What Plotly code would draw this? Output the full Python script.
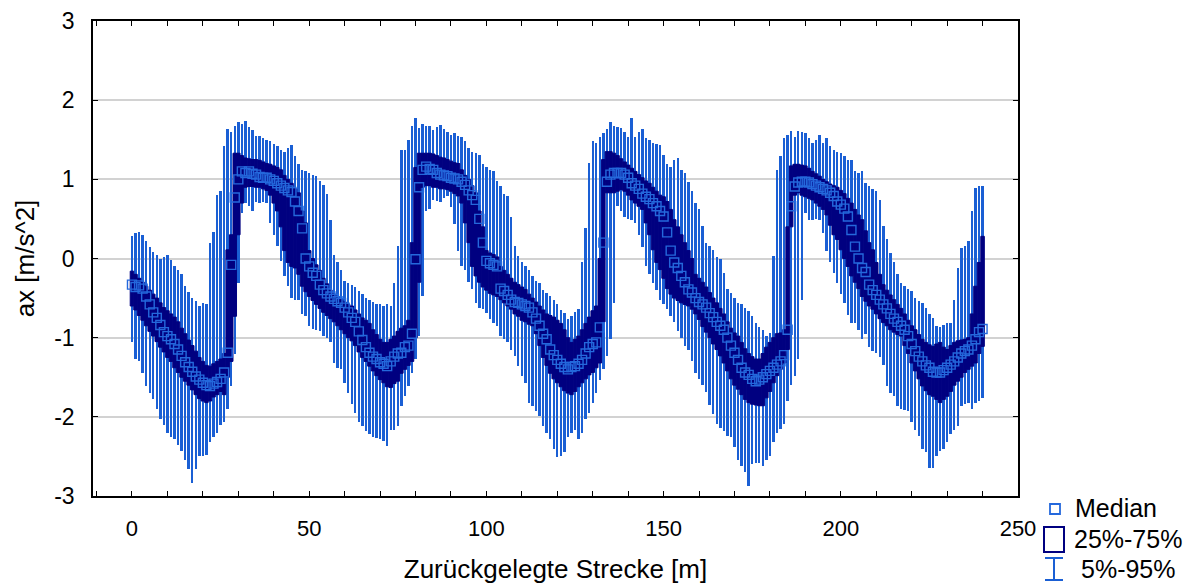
import plotly.graph_objects as go

# ---------------- data ----------------
distance = list(range(0, 241))

median = [
    -0.33, -0.36, -0.34, -0.38, -0.48, -0.58, -0.68, -0.75, -0.84, -0.93,
    -0.98, -1.02, -1.08, -1.15, -1.23, -1.31, -1.37, -1.43, -1.49, -1.53,
    -1.57, -1.60, -1.61, -1.58, -1.56, -1.52, -1.44, -1.19, -0.08, 0.77,
    1.00, 1.10, 1.08, 1.10, 1.07, 1.06, 1.03, 1.02, 1.02, 1.00,
    0.98, 0.95, 0.92, 0.89, 0.86, 0.84, 0.72, 0.60, 0.38, 0.00,
    -0.10, -0.18, -0.22, -0.33, -0.40, -0.44, -0.48, -0.51, -0.54, -0.56,
    -0.62, -0.68, -0.75, -0.80, -0.92, -1.03, -1.12, -1.19, -1.24, -1.27,
    -1.31, -1.33, -1.36, -1.30, -1.24, -1.20, -1.19, -1.12, -1.10, -0.95,
    -0.01, 0.90, 1.12, 1.16, 1.13, 1.12, 1.08, 1.06, 1.05, 1.04,
    1.02, 1.01, 1.00, 0.97, 0.93, 0.86, 0.80, 0.74, 0.50, 0.20,
    -0.03, -0.06, -0.08, -0.10, -0.38, -0.41, -0.46, -0.52, -0.55, -0.56,
    -0.58, -0.60, -0.62, -0.68, -0.76, -0.85, -0.95, -1.02, -1.15, -1.22,
    -1.28, -1.33, -1.37, -1.40, -1.37, -1.36, -1.33, -1.28, -1.20, -1.12,
    -1.08, -1.06, -0.87, 0.20, 0.97, 1.06, 1.08, 1.08, 1.08, 1.06,
    1.02, 0.95, 0.92, 0.88, 0.82, 0.78, 0.75, 0.70, 0.66, 0.60,
    0.53, 0.33, 0.10, -0.05, -0.12, -0.22, -0.30, -0.39, -0.43, -0.50,
    -0.55, -0.58, -0.62, -0.69, -0.74, -0.80, -0.85, -0.90, -1.00, -1.10,
    -1.19, -1.28, -1.38, -1.44, -1.47, -1.52, -1.55, -1.53, -1.50, -1.46,
    -1.42, -1.38, -1.34, -1.30, -1.22, -0.90, 0.66, 0.91, 0.96, 0.97,
    0.97, 0.96, 0.94, 0.92, 0.90, 0.88, 0.86, 0.83, 0.79, 0.72,
    0.68, 0.63, 0.53, 0.36, 0.15, 0.00, -0.12, -0.17, -0.33, -0.40,
    -0.46, -0.52, -0.58, -0.63, -0.70, -0.76, -0.80, -0.85, -0.90, -0.98,
    -1.08, -1.17, -1.24, -1.30, -1.35, -1.38, -1.43, -1.44, -1.44, -1.41,
    -1.38, -1.34, -1.30, -1.25, -1.20, -1.17, -1.15, -1.10, -1.02, -0.93,
    -0.89,
]

q3 = [
    -0.16, -0.20, -0.25, -0.30, -0.35, -0.40, -0.45, -0.50, -0.56, -0.62,
    -0.66, -0.70, -0.74, -0.80, -0.88, -0.95, -1.03, -1.10, -1.17, -1.25,
    -1.30, -1.35, -1.36, -1.33, -1.30, -1.27, -1.20, 0.11, 0.30, 1.33,
    1.33, 1.30, 1.27, 1.26, 1.25, 1.25, 1.24, 1.22, 1.20, 1.19,
    1.17, 1.15, 1.12, 1.05, 1.00, 0.95, 0.88, 0.83, 0.60, 0.45,
    0.10, 0.00, -0.08, -0.15, -0.25, -0.32, -0.40, -0.45, -0.48, -0.52,
    -0.55, -0.58, -0.60, -0.65, -0.70, -0.75, -0.78, -0.82, -0.90, -0.96,
    -1.02, -1.06, -1.06, -1.02, -0.98, -0.92, -0.88, -0.85, -0.78, 0.20,
    1.15, 1.33, 1.33, 1.33, 1.33, 1.32, 1.30, 1.28, 1.27, 1.25,
    1.23, 1.21, 1.20, 1.12, 1.05, 1.00, 0.92, 0.83, 0.60, 0.40,
    0.10, 0.07, 0.05, 0.02, -0.10, -0.15, -0.20, -0.25, -0.30, -0.33,
    -0.36, -0.39, -0.45, -0.50, -0.55, -0.60, -0.65, -0.70, -0.72, -0.74,
    -0.78, -0.82, -0.90, -1.00, -1.06, -1.02, -0.98, -0.90, -0.82, -0.74,
    -0.66, -0.60, 0.00, 1.25, 1.35, 1.35, 1.33, 1.30, 1.26, 1.22,
    1.18, 1.14, 1.10, 1.06, 1.02, 0.98, 0.95, 0.90, 0.85, 0.80,
    0.78, 0.72, 0.62, 0.49, 0.40, 0.30, 0.20, 0.10, 0.00, -0.20,
    -0.25, -0.30, -0.36, -0.43, -0.50, -0.56, -0.63, -0.70, -0.80, -0.88,
    -0.94, -0.98, -1.06, -1.14, -1.20, -1.24, -1.27, -1.27, -1.20, -1.12,
    -1.06, -1.00, -0.95, -0.94, -0.90, 0.40, 1.17, 1.19, 1.19, 1.18,
    1.17, 1.14, 1.10, 1.07, 1.04, 1.00, 0.97, 0.94, 0.92, 0.90,
    0.86, 0.82, 0.76, 0.70, 0.62, 0.55, 0.49, 0.35, 0.20, 0.11,
    -0.05, -0.20, -0.33, -0.40, -0.46, -0.52, -0.58, -0.63, -0.70, -0.78,
    -0.85, -0.90, -0.96, -1.02, -1.06, -1.09, -1.11, -1.08, -1.06, -1.12,
    -1.15, -1.10, -1.06, -1.04, -1.03, -1.02, -1.00, -0.70, -0.35, -0.05,
    0.28,
]

q1 = [
    -0.60, -0.65, -0.72, -0.78, -0.85, -0.92, -0.98, -1.05, -1.12, -1.18,
    -1.25, -1.30, -1.38, -1.44, -1.50, -1.55, -1.60, -1.66, -1.72, -1.77,
    -1.80, -1.82, -1.80, -1.75, -1.72, -1.68, -1.72, -1.50, -1.30, -0.73,
    0.30, 0.70, 0.90, 0.91, 0.91, 0.90, 0.90, 0.88, 0.86, 0.80,
    0.70, 0.60, 0.40, 0.10, -0.05, -0.10, -0.12, -0.20, -0.35, -0.42,
    -0.48, -0.53, -0.58, -0.63, -0.68, -0.72, -0.76, -0.80, -0.85, -0.90,
    -0.95, -1.00, -1.04, -1.10, -1.18, -1.25, -1.30, -1.36, -1.42, -1.48,
    -1.53, -1.57, -1.62, -1.63, -1.58, -1.55, -1.45, -1.40, -1.35, -1.30,
    -1.00, -0.30, 0.90, 0.92, 0.92, 0.90, 0.90, 0.88, 0.88, 0.87,
    0.85, 0.82, 0.79, 0.70, 0.45, 0.20, -0.10, -0.22, -0.30, -0.36,
    -0.40, -0.44, -0.46, -0.48, -0.52, -0.56, -0.60, -0.64, -0.70, -0.73,
    -0.78, -0.80, -0.83, -0.85, -0.95, -1.10, -1.25, -1.35, -1.45, -1.52,
    -1.57, -1.62, -1.67, -1.70, -1.72, -1.68, -1.62, -1.57, -1.52, -1.47,
    -1.44, -1.38, -1.32, -0.80, 0.83, 0.83, 0.83, 0.85, 0.87, 0.85,
    0.80, 0.74, 0.70, 0.66, 0.62, 0.45, 0.30, 0.11, -0.05, -0.14,
    -0.25, -0.38, -0.45, -0.50, -0.53, -0.56, -0.58, -0.60, -0.64, -0.70,
    -0.77, -0.86, -0.93, -1.00, -1.08, -1.15, -1.23, -1.32, -1.42, -1.52,
    -1.60, -1.65, -1.72, -1.78, -1.82, -1.84, -1.85, -1.86, -1.86, -1.76,
    -1.68, -1.57, -1.48, -1.40, -1.32, -1.15, 0.40, 0.80, 0.83, 0.80,
    0.78, 0.76, 0.74, 0.70, 0.66, 0.62, 0.55, 0.42, 0.30, 0.24,
    0.11, 0.00, -0.10, -0.22, -0.30, -0.38, -0.48, -0.54, -0.60, -0.64,
    -0.70, -0.76, -0.81, -0.85, -0.90, -0.93, -0.96, -0.98, -1.10, -1.20,
    -1.32, -1.42, -1.52, -1.61, -1.67, -1.72, -1.74, -1.78, -1.82, -1.78,
    -1.74, -1.68, -1.60, -1.55, -1.50, -1.44, -1.40, -1.36, -1.32, -1.20,
    -1.11,
]

p95 = [
    0.28, 0.32, 0.34, 0.30, 0.22, 0.15, 0.08, 0.05, 0.00, 0.02,
    0.05, -0.02, -0.10, -0.14, -0.20, -0.35, -0.42, -0.50, -0.54, -0.60,
    -0.56, -0.58, 0.20, 0.34, 0.80, 0.85, 1.42, 1.63, 1.60, 1.68,
    1.72, 1.70, 1.74, 1.66, 1.62, 1.55, 1.55, 1.52, 1.50, 1.48,
    1.45, 1.42, 1.37, 1.35, 1.40, 1.44, 1.30, 1.20, 1.12, 1.10,
    1.08, 1.06, 1.04, 0.98, 0.93, 0.82, 0.49, 0.05, -0.05, -0.15,
    -0.28, -0.31, -0.33, -0.36, -0.41, -0.45, -0.50, -0.52, -0.55, -0.58,
    -0.58, -0.60, -0.58, -0.60, -0.31, 0.16, 1.37, 1.37, 1.50, 1.67,
    1.77, 1.65, 1.70, 1.68, 1.68, 1.62, 1.66, 1.69, 1.64, 1.60,
    1.56, 1.58, 1.55, 1.54, 1.48, 1.40, 1.35, 1.33, 1.31, 1.20,
    1.16, 1.12, 1.10, 0.98, 0.91, 0.82, 0.79, 0.53, 0.16, 0.03,
    -0.05, -0.10, -0.15, -0.22, -0.28, -0.31, -0.40, -0.43, -0.47, -0.52,
    -0.58, -0.65, -0.69, -0.77, -0.73, -0.68, -0.64, -0.05, 0.39, 1.21,
    1.48, 1.46, 1.54, 1.58, 1.63, 1.73, 1.67, 1.66, 1.65, 1.60,
    1.54, 1.77, 1.54, 1.60, 1.63, 1.52, 1.50, 1.46, 1.45, 1.44,
    1.31, 1.20, 1.16, 1.25, 1.27, 1.12, 1.08, 0.97, 0.85, 0.70,
    0.62, 0.41, 0.20, 0.16, 0.11, 0.02, -0.01, -0.18, -0.39, -0.43,
    -0.50, -0.56, -0.58, -0.62, -0.66, -0.73, -0.81, -0.86, -0.90, -0.98,
    -0.94, 0.03, 1.12, 1.29, 1.52, 1.56, 1.61, 1.54, 1.61, 1.60,
    1.58, 1.52, 1.46, 1.50, 1.56, 1.46, 1.52, 1.42, 1.37, 1.35,
    1.33, 1.30, 1.25, 1.25, 1.10, 1.08, 1.10, 0.95, 0.91, 0.88,
    0.85, 0.74, 0.41, 0.25, 0.07, -0.05, -0.20, -0.31, -0.35, -0.38,
    -0.41, -0.50, -0.54, -0.56, -0.62, -0.70, -0.75, -0.85, -0.87, -0.84,
    -0.81, -0.81, -0.52, -0.12, 0.13, 0.16, 0.22, 0.60, 0.89, 0.91,
    0.92,
]

p5 = [
    -1.06, -1.27, -1.30, -1.44, -1.61, -1.70, -1.78, -1.90, -2.03, -2.10,
    -2.20, -2.25, -2.28, -2.35, -2.43, -2.55, -2.66, -2.83, -2.66, -2.50,
    -2.50, -2.48, -2.32, -2.25, -2.20, -2.10, -2.07, -1.90, -1.61, -1.20,
    -0.31, 0.58, 0.70, 0.66, 0.60, 0.72, 0.70, 0.72, 0.70, 0.45,
    0.30, 0.16, -0.03, -0.22, -0.35, -0.50, -0.52, -0.52, -0.70, -0.73,
    -0.85, -0.89, -0.90, -0.92, -0.98, -1.00, -1.06, -1.32, -1.38, -1.40,
    -1.57, -1.70, -1.84, -1.95, -2.07, -2.12, -2.18, -2.22, -2.26, -2.27,
    -2.28, -2.30, -2.37, -2.16, -2.16, -2.11, -1.86, -1.74, -1.61, -1.45,
    -1.27, -0.98, -0.47, 0.60, 0.62, 0.74, 0.73, 0.72, 0.76, 0.79,
    0.65, 0.43, 0.10, -0.10, -0.14, -0.30, -0.39, -0.56, -0.62, -0.64,
    -0.69, -0.77, -0.82, -0.85, -0.98, -1.02, -1.06, -1.15, -1.23, -1.36,
    -1.48, -1.57, -1.82, -1.86, -1.92, -1.99, -2.11, -2.20, -2.28, -2.41,
    -2.51, -2.50, -2.45, -2.26, -2.20, -2.16, -2.28, -2.20, -2.03, -1.95,
    -1.82, -1.70, -1.53, -1.40, -1.23, -1.02, -0.56, 0.66, 0.60, 0.53,
    0.50, 0.49, 0.45, 0.30, 0.15, -0.10, -0.20, -0.31, -0.40, -0.52,
    -0.58, -0.64, -0.72, -0.80, -0.92, -1.00, -1.10, -1.15, -1.30, -1.44,
    -1.52, -1.60, -1.69, -1.85, -1.97, -2.09, -2.14, -2.18, -2.24, -2.26,
    -2.38, -2.55, -2.62, -2.70, -2.87, -2.60, -2.58, -2.58, -2.62, -2.55,
    -2.49, -2.32, -2.20, -2.15, -2.09, -1.80, -1.60, -1.48, -1.27, -0.52,
    0.58, 0.49, 0.49, 0.50, 0.49, 0.32, 0.10, -0.05, -0.18, -0.31,
    -0.45, -0.56, -0.71, -0.81, -0.82, -0.90, -1.02, -0.95, -1.12, -1.17,
    -1.19, -1.25, -1.34, -1.61, -1.70, -1.74, -1.86, -1.90, -1.91, -1.93,
    -2.07, -2.16, -2.24, -2.41, -2.45, -2.64, -2.64, -2.49, -2.43, -2.41,
    -2.32, -2.22, -2.16, -2.11, -1.86, -1.84, -1.82, -1.90, -1.82, -1.80,
    -1.76,
]

x_tick_values = list(range(-10, 251, 10))
x_tick_labels = [str(v) if (v >= 0 and v % 50 == 0) else "" for v in x_tick_values]
y_tick_values = [-3, -2, -1, 0, 1, 2, 3]
y_tick_labels = ["-3", "-2", "-1", "0", "1", "2", "3"]
legend_labels = ["Median", "25%-75%", "5%-95%"]

# ---------------- styling ----------------
NAVY = "#000080"
WHISKER = "#1a5fd4"
MARK = "#2468dc"
FONT = "Liberation Sans, Arial, sans-serif"

# the page body adds an 8 px margin around the figure
OFF = 8
W, H = 1192 - OFF, 584 - OFF
ML, MT = 93 - OFF, 21 - OFF          # plot area starts at page (93, 21)
PW, PH = 925, 475                    # plot area size
MR, MB = W - ML - PW, H - MT - PH


def px(xp):
    """page x pixel -> paper x"""
    return (xp - OFF - ML) / PW


def py(yp):
    """page y pixel -> paper y"""
    return (MT + PH - (yp - OFF)) / PH


fig = go.Figure()

# 5%-95% whiskers
fig.add_trace(go.Bar(
    x=distance,
    base=p5,
    y=[hi - lo for hi, lo in zip(p95, p5)],
    width=0.68,
    marker=dict(color=WHISKER, line=dict(width=0)),
    hoverinfo="skip",
    showlegend=False,
))

# 25%-75% boxes
fig.add_trace(go.Box(
    x=distance,
    q1=q1,
    median=median,
    q3=q3,
    lowerfence=q1,
    upperfence=q3,
    width=1.0,
    whiskerwidth=0,
    fillcolor=NAVY,
    line=dict(color=NAVY, width=1),
    boxpoints=False,
    hoverinfo="skip",
    showlegend=False,
))

# medians
fig.add_trace(go.Scatter(
    x=distance,
    y=median,
    mode="markers",
    marker=dict(symbol="square-open", size=9, color=MARK,
                line=dict(width=1.4, color=MARK)),
    showlegend=False,
))

fig.update_layout(
    width=W, height=H,
    margin=dict(l=ML, r=MR, t=MT, b=MB, pad=0),
    paper_bgcolor="white",
    plot_bgcolor="white",
    font=dict(family=FONT, color="black", size=22),
    showlegend=False,
    bargap=0,
    boxmode="overlay",
)

fig.update_xaxes(
    range=[-11, 250],
    tickmode="array",
    tickvals=x_tick_values,
    ticktext=x_tick_labels,
    ticks="inside", ticklen=5, tickwidth=1.2, tickcolor="black",
    showline=True, linecolor="black", linewidth=1.6, mirror="allticks",
    showgrid=False, zeroline=False,
    tickfont=dict(size=22),
    ticklabelstandoff=12,
    ticklabeloverflow="allow",
    automargin=False,
    title=dict(text="Zurückgelegte Strecke [m]", font=dict(size=26), standoff=20),
)

fig.update_yaxes(
    range=[-3, 3],
    tickmode="array",
    tickvals=y_tick_values,
    ticktext=y_tick_labels,
    ticks="inside", ticklen=5, tickwidth=1.2, tickcolor="black",
    showline=True, linecolor="black", linewidth=1.6, mirror="allticks",
    showgrid=True, gridcolor="#d2d2d2", gridwidth=2,
    zeroline=False,
    tickfont=dict(size=23),
    ticklabelstandoff=12,
    ticklabeloverflow="allow",
    automargin=False,
    title=dict(text="ax [m/s^2]", font=dict(size=26), standoff=12),
)

# ---------------- legend (drawn manually, outside plot area) ----------------
shapes = [
    dict(type="rect", xref="paper", yref="paper",
         x0=px(1050), x1=px(1060), y0=py(514), y1=py(504),
         line=dict(color=MARK, width=1.8), fillcolor="rgba(0,0,0,0)"),
    dict(type="rect", xref="paper", yref="paper",
         x0=px(1044), x1=px(1064), y0=py(552), y1=py(527),
         line=dict(color=NAVY, width=2), fillcolor="rgba(0,0,0,0)"),
    dict(type="line", xref="paper", yref="paper",
         x0=px(1054), x1=px(1054), y0=py(580), y1=py(558),
         line=dict(color=WHISKER, width=2)),
    dict(type="line", xref="paper", yref="paper",
         x0=px(1045), x1=px(1063), y0=py(558), y1=py(558),
         line=dict(color=WHISKER, width=2)),
    dict(type="line", xref="paper", yref="paper",
         x0=px(1045), x1=px(1063), y0=py(580), y1=py(580),
         line=dict(color=WHISKER, width=2)),
]
fig.update_layout(shapes=shapes)

legend_pos = [(1073, 508), (1072, 539), (1079, 569)]
for label, (lx, ly) in zip(legend_labels, legend_pos):
    fig.add_annotation(
        xref="paper", yref="paper", x=px(lx), y=py(ly),
        xanchor="left", yanchor="middle", showarrow=False,
        text=label, font=dict(family=FONT, size=25, color="black"),
    )

fig.write_html("out.html")
